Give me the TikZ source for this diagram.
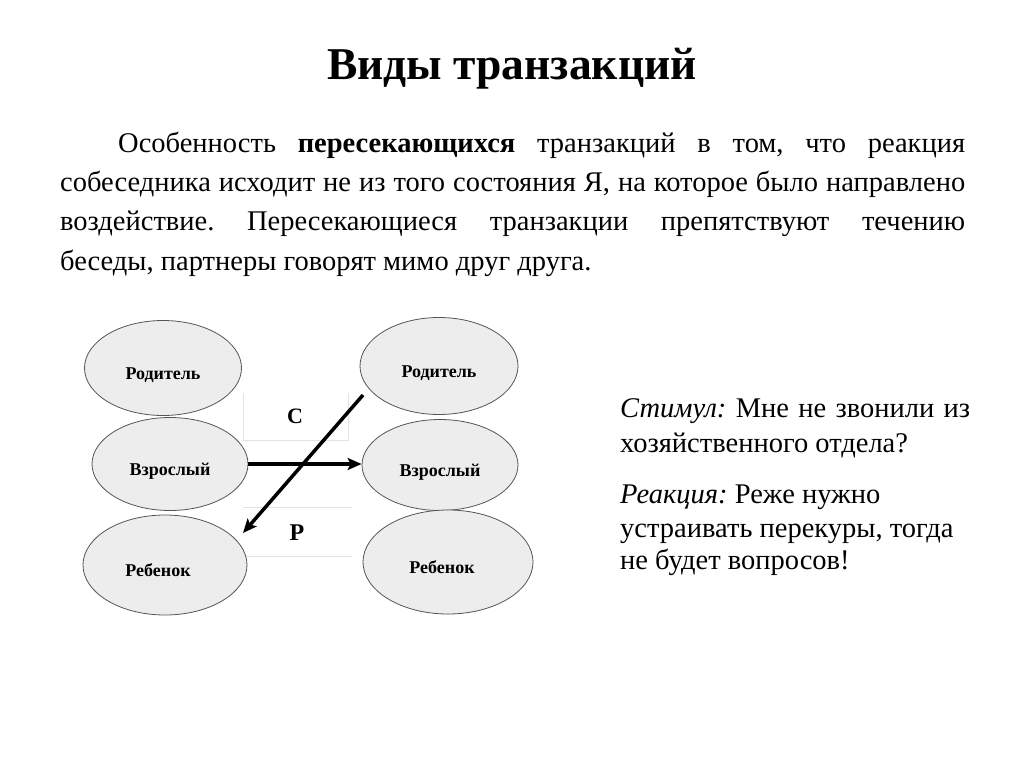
\documentclass[tikz,border=0pt]{standalone}
\usepackage{fontspec}
\setmainfont{Liberation Serif}
\usetikzlibrary{arrows.meta,shapes.geometric}
\definecolor{ellfill}{HTML}{EDEDED}
\definecolor{ellline}{HTML}{555555}
\definecolor{boxline}{HTML}{E2E2E2}
\newcommand{\lowlbl}[1]{\raisebox{-11pt}[0pt][0pt]{#1}}
\tikzset{
  ego/.style={ellipse,draw=ellline,fill=ellfill,line width=0.8pt,inner sep=0pt,
    font=\fontsize{18}{21}\selectfont\bfseries},
  txt/.style={anchor=base west,inner sep=0pt,font=\fontsize{28.5}{33}\selectfont},
  arr/.style={line width=3.5pt,-{Stealth[length=14pt,width=12pt,inset=3pt]}},
  faint/.style={draw=boxline,line width=1pt},
  letterlbl/.style={inner sep=0pt,font=\fontsize{24}{28}\selectfont\bfseries}
}
\begin{document}
\frenchspacing
\begin{tikzpicture}[x=1pt,y=-1pt]
\useasboundingbox (0,0) rectangle (1024,767);
% title
\node[inner sep=0pt,anchor=base,font=\fontsize{45.5}{50}\selectfont\bfseries] (title) at (512,80) {Виды транзакций};
% paragraph
\node[txt] (p1) at (118,153) {\makebox[847pt][s]{Особенность \textbf{пересекающихся} транзакций в том, что реакция}};
\node[txt] (p2) at (60,192) {\makebox[905pt][s]{собеседника исходит не из того состояния Я, на которое было направлено}};
\node[txt] (p3) at (60,231) {\makebox[905pt][s]{воздействие. Пересекающиеся транзакции препятствуют течению}};
\node[txt] (p4) at (60,270) {беседы, партнеры говорят мимо друг друга.};
% faint boxes
\draw[faint] (243,393) -- (243,440) -- (348,440) -- (348,393);
\draw[faint] (243,507) -- (352,507);
\draw[faint] (243,556) -- (352,556);
\node[letterlbl,font=\fontsize{22}{26}\selectfont\bfseries] (c) at (295,416) {C};
\node[letterlbl] (r) at (297,533) {Р};
% ego states
\node[ego,minimum width=157pt,minimum height=95pt] (lP) at (163,368) {\lowlbl{Родитель}};
\node[ego,minimum width=156pt,minimum height=93pt] (lA) at (170,464) {\lowlbl{Взрослый}};
\node[ego,minimum width=164pt,minimum height=100pt] (lC) at (165,565) {\lowlbl{Ребенок\hspace{14pt}}};
\node[ego,minimum width=158pt,minimum height=97pt] (rP) at (439,366) {\lowlbl{Родитель}};
\node[ego,minimum width=156pt,minimum height=91pt] (rA) at (440,465) {\lowlbl{Взрослый}};
\node[ego,minimum width=170pt,minimum height=104pt] (rC) at (448,562) {\lowlbl{Ребенок\hspace{12pt}}};
% arrows
\coordinate (dStart) at (363,395);
\coordinate (dEnd) at (243,533);
\draw[arr] (lA.east) -- (lA.east -| rA.west);
\draw[arr] (dStart) -- (dEnd);
% dialogue
\node[txt] (s1) at (620,417) {\makebox[350pt][s]{\textit{Стимул:} Мне не звонили из}};
\node[txt] (s2) at (620,452) {хозяйственного отдела?};
\node[txt] (s3) at (620,503) {\textit{Реакция:} Реже нужно};
\node[txt] (s4) at (620,537) {устраивать перекуры, тогда};
\node[txt] (s5) at (620,569) {не будет вопросов!};
\end{tikzpicture}
\end{document}
